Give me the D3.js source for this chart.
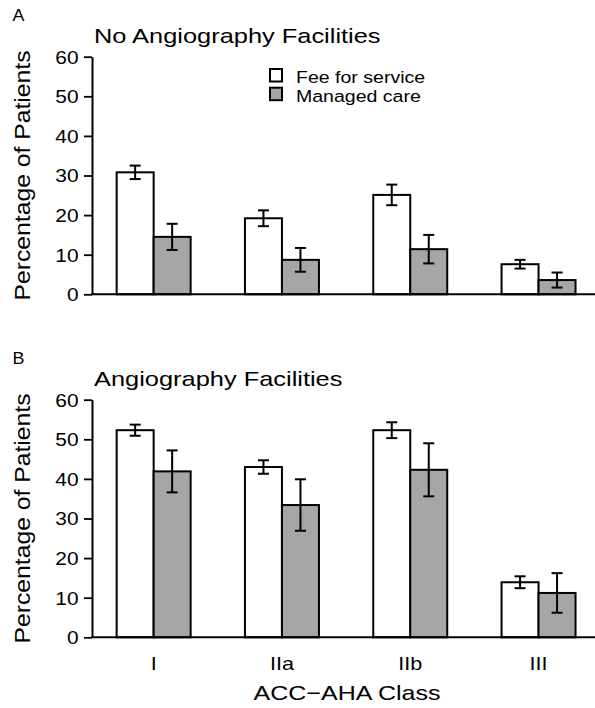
<!DOCTYPE html>
<html>
<head>
<meta charset="utf-8">
<script src="https://cdn.jsdelivr.net/npm/d3@7"></script>
<style>
  body { margin: 0; background: #fff; }
  text { font-family: "Liberation Sans", Arial, Helvetica, sans-serif; fill: #000; }
</style>
</head>
<body>
<svg id="chart" width="595" height="708"></svg>
<script>
// ACC–AHA class categories and series
const classes = ["I", "IIa", "IIb", "III"];
const seriesNames = ["Fee for service", "Managed care"];
const yTicks = [0, 10, 20, 30, 40, 50, 60];

// Panel A: hospitals without angiography facilities (% of patients, ± error)
const noAngioFee = [30.8, 19.2, 25.1, 7.6];
const noAngioFeeErr = [1.7, 2.0, 2.6, 1.1];
const noAngioManaged = [14.5, 8.7, 11.4, 3.6];
const noAngioManagedErr = [3.3, 3.0, 3.6, 1.9];

// Panel B: hospitals with angiography facilities (% of patients, ± error)
const angioFee = [52.3, 43.0, 52.3, 13.9];
const angioFeeErr = [1.4, 1.7, 2.0, 1.5];
const angioManaged = [41.9, 33.4, 42.3, 11.2];
const angioManagedErr = [5.3, 6.5, 6.7, 5.0];

const panels = [
  { letter: "A", title: "No Angiography Facilities", top: 56.7, bottom: 294.3,
    values: [noAngioFee, noAngioManaged], errors: [noAngioFeeErr, noAngioManagedErr],
    legend: true, xLabels: false },
  { letter: "B", title: "Angiography Facilities", top: 399.7, bottom: 637.3,
    values: [angioFee, angioManaged], errors: [angioFeeErr, angioManagedErr],
    legend: false, xLabels: true }
];

const W = 595, H = 708;
const axisX = 92;
const fills = ["#ffffff", "#a6a6a6"];
const svg = d3.select("#chart");

// the typeface in this figure is set wide; stretch each label horizontally
function wideText(g, x, y, str, size, sx, anchor, rotate) {
  return g.append("text")
    .attr("transform", `translate(${x},${y})` + (rotate ? ` rotate(${rotate})` : "") + ` scale(${sx},1)`)
    .attr("font-size", size)
    .attr("text-anchor", anchor || "start")
    .text(str);
}

const x = d3.scaleBand().domain(classes).range([89.5, 602.7]).paddingInner(0).paddingOuter(0);
const xs = d3.scaleBand().domain(seriesNames).range([0, x.bandwidth()]).paddingOuter(0.734).paddingInner(0);

panels.forEach(p => {
  const g = svg.append("g");
  const y = d3.scaleLinear().domain([0, 60]).range([p.bottom, p.top]);

  // panel letter and title
  wideText(g, 12.5, p.top - 35.5, p.letter, 16, 1.12);
  wideText(g, 94, p.top - 13.4, p.title, 21, 1.21);

  // y-axis title
  wideText(g, 30, (p.top + p.bottom) / 2, "Percentage of Patients", 21.5, 1.15, "middle", -90);

  // bars
  seriesNames.forEach((s, si) => {
    g.append("g").selectAll("rect")
      .data(classes.map((c, i) => ({ c, v: p.values[si][i] })))
      .join("rect")
      .attr("x", d => x(d.c) + xs(s))
      .attr("y", d => y(d.v))
      .attr("width", xs.bandwidth())
      .attr("height", d => y(0) - y(d.v))
      .attr("fill", fills[si])
      .attr("stroke", "#000")
      .attr("stroke-width", 2);
  });

  // error bars
  const capHalf = 5.5;
  seriesNames.forEach((s, si) => {
    const eg = g.append("g").attr("stroke", "#000").attr("stroke-width", 2).attr("fill", "none");
    classes.forEach((c, i) => {
      const cx = x(c) + xs(s) + xs.bandwidth() / 2;
      const v = p.values[si][i], e = p.errors[si][i];
      eg.append("line").attr("x1", cx).attr("x2", cx).attr("y1", y(v - e)).attr("y2", y(v + e));
      eg.append("line").attr("x1", cx - capHalf).attr("x2", cx + capHalf).attr("y1", y(v + e)).attr("y2", y(v + e));
      eg.append("line").attr("x1", cx - capHalf).attr("x2", cx + capHalf).attr("y1", y(v - e)).attr("y2", y(v - e));
    });
  });

  // y axis
  const yAxis = g.append("g")
    .attr("transform", `translate(${axisX},0)`)
    .call(d3.axisLeft(y).tickValues(yTicks).tickSize(8).tickSizeOuter(0));
  yAxis.attr("font-family", null).attr("font-size", null);
  yAxis.select(".domain").attr("stroke-width", 2);
  yAxis.selectAll(".tick line").attr("stroke-width", 1.8);
  yAxis.selectAll(".tick text")
    .attr("font-size", 18)
    .attr("x", -13.5 / 1.16)
    .attr("dy", "0.36em")
    .attr("transform", "scale(1.16,1)");

  // x axis baseline and class labels
  g.append("line")
    .attr("x1", axisX - 1).attr("x2", W)
    .attr("y1", y(0)).attr("y2", y(0))
    .attr("stroke", "#000").attr("stroke-width", 2);
  if (p.xLabels) {
    const xAxis = g.append("g")
      .attr("transform", `translate(0,${y(0)})`)
      .call(d3.axisBottom(x).tickSize(0).tickPadding(20));
    xAxis.select(".domain").remove();
    xAxis.attr("font-family", null).attr("font-size", null);
    xAxis.selectAll(".tick text")
      .attr("font-size", 18)
      .attr("transform", "scale(1.2,1)");
    wideText(g, 347, 700, "ACC\u2212AHA Class", 21, 1.19, "middle");
  }

  // legend
  if (p.legend) {
    seriesNames.forEach((s, si) => {
      const ly = 69 + si * 18.7;
      g.append("rect")
        .attr("x", 270).attr("y", ly)
        .attr("width", 12).attr("height", 12.5)
        .attr("fill", fills[si]).attr("stroke", "#000").attr("stroke-width", 2);
      wideText(g, 296, ly + 14, s, 17, 1.15);
    });
  }
});
</script>
</body>
</html>
